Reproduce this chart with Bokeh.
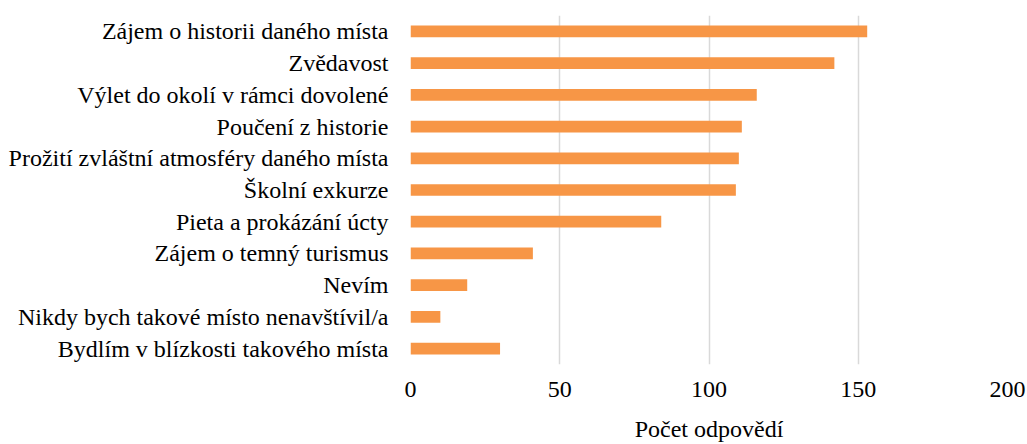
from bokeh.plotting import figure
from bokeh.models import ColumnDataSource, FactorRange
from bokeh.embed import file_html
from bokeh.resources import INLINE

categories = [
    "Zájem o historii daného místa",
    "Zvědavost",
    "Výlet do okolí v rámci dovolené",
    "Poučení z historie",
    "Prožití zvláštní atmosféry daného místa",
    "Školní exkurze",
    "Pieta a prokázání úcty",
    "Zájem o temný turismus",
    "Nevím",
    "Nikdy bych takové místo nenavštívil/a",
    "Bydlím v blízkosti takového místa",
]
counts = [153, 142, 116, 111, 110, 109, 84, 41, 19, 10, 30]
x_ticks = [0, 50, 100, 150, 200]

FONT = "Liberation Serif"

source = ColumnDataSource(data=dict(cat=categories, val=counts))

p = figure(
    width=1027, height=444,
    y_range=FactorRange(factors=list(reversed(categories)), range_padding=0),
    x_range=(0, 200),
    output_backend="svg", toolbar_location=None,
    min_border_left=410, min_border_right=20, min_border_top=15, min_border_bottom=79,
)
p.hbar(y="cat", right="val", left=0, height=0.37, source=source,
       fill_color="#F79646", line_color=None)

p.outline_line_color = None
p.ygrid.grid_line_color = None
p.xgrid.grid_line_color = "#D9D9D9"
p.xgrid.grid_line_width = 1.5
p.xgrid.ticker = x_ticks
p.xaxis.ticker = x_ticks

for ax in (p.xaxis, p.yaxis):
    ax.axis_line_color = None
    ax.major_tick_line_color = None
    ax.minor_tick_line_color = None
    ax.major_tick_out = 0
    ax.major_tick_in = 0
    ax.major_label_text_font = FONT
    ax.major_label_text_font_size = "24px"
    ax.major_label_text_color = "#000000"

p.yaxis.major_label_standoff = 22
p.xaxis.major_label_standoff = 17
p.xaxis.axis_label = "Počet odpovědí"
p.xaxis.axis_label_text_font = FONT
p.xaxis.axis_label_text_font_size = "24px"
p.xaxis.axis_label_text_font_style = "normal"
p.xaxis.axis_label_text_color = "#000000"
p.xaxis.axis_label_standoff = 16

open("out.html", "w").write(file_html(p, INLINE))
